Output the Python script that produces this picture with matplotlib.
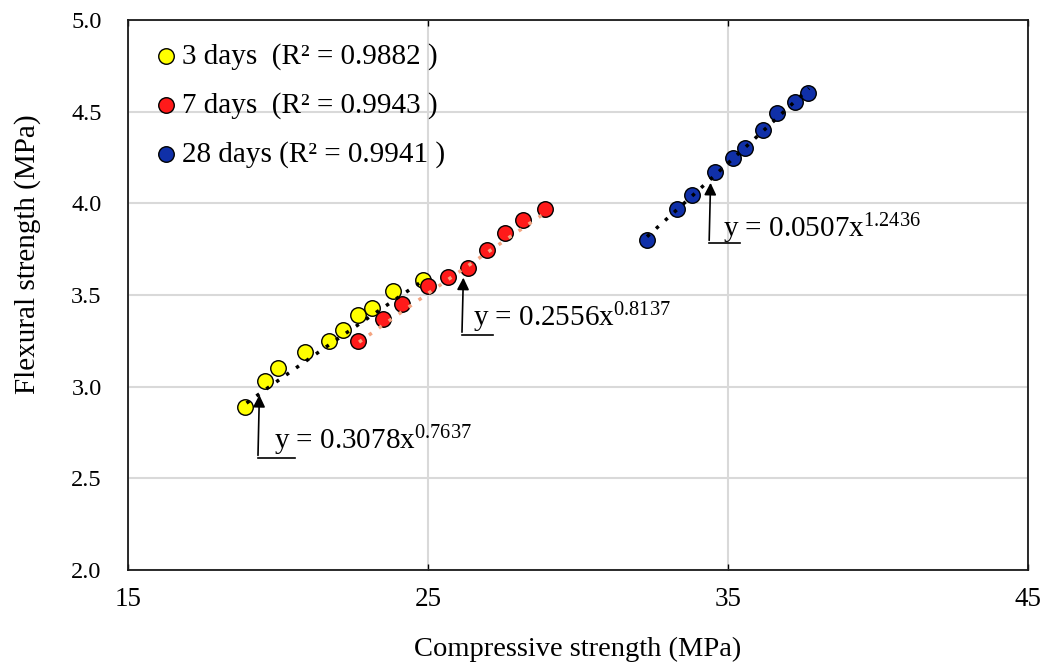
import matplotlib
matplotlib.use("Agg")
import matplotlib.pyplot as plt
import numpy as np

plt.rcParams['font.family'] = ['Liberation Serif', 'DejaVu Serif']
plt.rcParams['mathtext.fontset'] = 'custom'
plt.rcParams['mathtext.rm'] = 'Liberation Serif'
plt.rcParams['mathtext.it'] = 'Liberation Serif:italic'

# data
x3 = [18.9, 19.57, 20.0, 20.9, 21.7, 22.17, 22.67, 23.13, 23.83, 24.83]
y3 = [2.89, 3.03, 3.10, 3.19, 3.25, 3.31, 3.39, 3.43, 3.52, 3.58]
x7 = [22.67, 23.5, 24.13, 25.0, 25.67, 26.33, 26.97, 27.57, 28.17, 28.9]
y7 = [3.25, 3.37, 3.45, 3.55, 3.60, 3.65, 3.745, 3.84, 3.91, 3.97]
x28 = [32.3, 33.3, 33.8, 34.57, 35.17, 35.57, 36.17, 36.63, 37.23, 37.67]
y28 = [3.80, 3.97, 4.045, 4.17, 4.25, 4.30, 4.40, 4.49, 4.55, 4.60]

# power trendlines y = a x^b
coef_a = [0.3078, 0.2556, 0.0507]
coef_b = [0.7637, 0.8137, 1.2436]
r2 = ['0.9882', '0.9943', '0.9941']
labels = ['3 days  (R² = ' + r2[0] + ' )', '7 days  (R² = ' + r2[1] + ' )', '28 days (R² = ' + r2[2] + ' )']
eq_text = [r'y = 0.3078x$^{0.7637}$', r'y = 0.2556x$^{0.8137}$', r'y = 0.0507x$^{1.2436}$']

fig = plt.figure(figsize=(10.46, 6.71), dpi=100)
ax = fig.add_axes([0.1224, 0.1505, 0.8604, 0.8197])

ax.set_xlim(15, 45)
ax.set_ylim(2.0, 5.0)
ax.set_xticks([15, 25, 35, 45])
ax.set_yticks([2.0, 2.5, 3.0, 3.5, 4.0, 4.5, 5.0])
ax.set_yticklabels(['2.0', '2.5', '3.0', '3.5', '4.0', '4.5', '5.0'])
ax.grid(True, color='#d9d9d9', lw=1.5)
ax.set_axisbelow(True)
for s in ax.spines.values():
    s.set_color('#1a1a1a')
    s.set_linewidth(1.3)
ax.tick_params(axis='x', direction='in', length=4, width=1, top=True, pad=12, labelsize=19.5)
ax.tick_params(axis='y', length=0, pad=19, labelsize=17.5)

# trendlines
xs = [np.linspace(18.95, 24.9, 50), np.linspace(22.7, 28.95, 50), np.linspace(32.3, 37.7, 50)]
tcol = ['black', '#f4a582', 'black']
for i in range(3):
    ax.plot(xs[i], coef_a[i] * xs[i] ** coef_b[i], color=tcol[i], lw=2.5,
            linestyle=(0, (1, 2.5)), zorder=3)

s3 = ax.scatter(x3, y3, s=125, c='#ffff00', edgecolors='black', lw=1.0, zorder=2, label=labels[0])
s7 = ax.scatter(x7, y7, s=125, c='#ff1a1a', edgecolors='black', lw=1.0, zorder=2, label=labels[1])
s28 = ax.scatter(x28, y28, s=125, c='#1030a8', edgecolors='black', lw=1.0, zorder=2, label=labels[2])

ax.legend(handles=[s3, s7, s28], loc='upper left', bbox_to_anchor=(0.005, 1.0), frameon=False,
          handlelength=0.7, handletextpad=0.2, labelspacing=0.75, fontsize=21, borderaxespad=0.4)

# equation callouts
corners = [(19.33, 2.61), (26.13, 3.282), (34.37, 3.783)]
ends = [20.55, 27.17, 35.4]
tips = [2.97, 3.61, 4.127]
txt_pos = [(19.85, 2.705), (26.5, 3.375), (34.83, 3.86)]
for i in range(3):
    cx, cy = corners[i]
    ax.plot([cx, ends[i]], [cy, cy], color='black', lw=1.2, zorder=4)
    ax.annotate('', xy=(cx + 0.05, tips[i]), xytext=(cx, cy),
                arrowprops=dict(arrowstyle='-|>', color='black', lw=1.2, mutation_scale=18), zorder=4)
    ax.text(txt_pos[i][0], txt_pos[i][1], eq_text[i], fontsize=21, va='center', ha='left', zorder=5)

ax.set_xlabel('Compressive strength (MPa)', fontsize=20.5, labelpad=18)
ax.set_ylabel('Flexural strength (MPa)', fontsize=21, labelpad=14)
ax.yaxis.set_label_coords(-0.097, 0.575)

fig.savefig('out.png', dpi=100)
